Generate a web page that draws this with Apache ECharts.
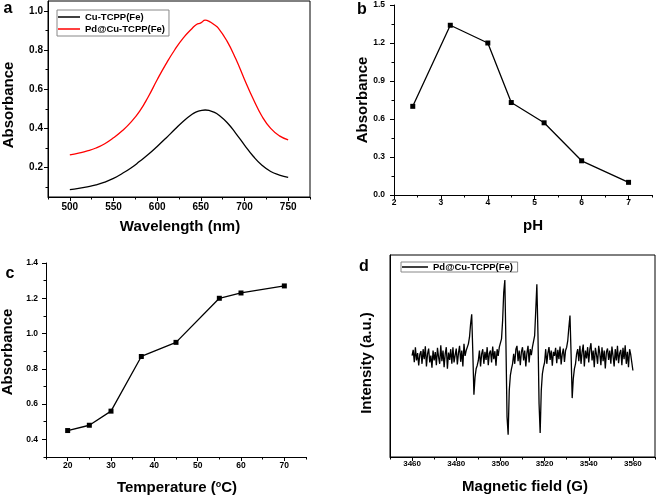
<!DOCTYPE html>
<html>
<head>
<meta charset="utf-8">
<script src="https://cdn.jsdelivr.net/npm/echarts@6/dist/echarts.min.js"></script>
<style>
html,body{margin:0;padding:0;background:#fff;}
#chart{width:661px;height:498px;}
</style>
</head>
<body>
<div id="chart"></div>
<script>
// ---------- Data ----------
// Panel a: UV-vis spectra
const wavelengths = [500,510,520,530,540,550,560,570,580,590,600,610,620,630,640,645,650,655,660,665,670,680,690,700,710,720,730,740,750];
const cuTcppAbs   = [0.088,0.094,0.102,0.112,0.126,0.145,0.170,0.198,0.232,0.268,0.308,0.350,0.394,0.437,0.472,0.484,0.491,0.494,0.491,0.483,0.470,0.430,0.375,0.315,0.258,0.212,0.180,0.162,0.150];
const pdCuTcppAbs = [0.265,0.274,0.285,0.300,0.322,0.352,0.388,0.432,0.488,0.563,0.648,0.728,0.800,0.862,0.910,0.930,0.938,0.952,0.945,0.930,0.912,0.845,0.755,0.650,0.550,0.462,0.400,0.362,0.342];
const seriesNamesA = ['Cu-TCPP(Fe)','Pd@Cu-TCPP(Fe)'];

// Panel b: pH dependence
const phValues = [2.4,3.2,4.0,4.5,5.2,6.0,7.0];
const phAbs    = [0.70,1.34,1.20,0.73,0.57,0.27,0.10];

// Panel c: temperature dependence
const temps    = [20,25,30,37,45,55,60,70];
const tempAbs  = [0.45,0.48,0.56,0.87,0.95,1.20,1.23,1.27];

// Panel d: EPR spectrum (field grid 3460..3560 G, 0.5 G step)
const eprStart = 3460, eprStep = 0.5;
const eprIntensity = [
0.05, 0.22, -0.15, 0.3, -0.1, 0.12, -0.25, 0.08, 0.18, -0.2,
0.24, -0.06, 0.33, -0.28, 0.1, 0.26, -0.16, 0.05, -0.32, 0.2,
-0.1, 0.15, -0.24, 0.28, 0.0, -0.2, 0.36, -0.12, 0.2, -0.3,
0.1, 0.3, -0.35, 0.14, -0.08, 0.24, -0.2, 0.3, -0.16, 0.06,
0.26, -0.22, 0.12, 0.34, -0.14, 0.2, -0.28, 0.4, 0.04, 0.2,
0.25, 0.4, 0.6, 1.0, 1.29, 0.15, -1.13, -0.6, -0.35, -0.25,
-0.1, 0.2, -0.28, 0.1, 0.24, -0.2, 0.16, -0.08, 0.3, -0.24,
0.12, 0.2, -0.16, 0.32, -0.06, 0.18, -0.26, 0.24, 0.04, 0.3,
0.3, 0.55, 1.1, 1.95, 2.32, 0.4, -1.8, -2.33, -1.0, -0.55,
-0.35, -0.2, 0.1, -0.2, 0.24, 0.34, -0.12, 0.2, -0.24, 0.16,
0.3, -0.1, 0.2, -0.28, 0.12, 0.34, -0.16, 0.24, 0.06, 0.3,
0.35, 0.65, 1.4, 2.19, 0.7, -1.4, -2.28, -1.0, -0.5, -0.3,
-0.16, 0.24, -0.2, 0.12, 0.3, -0.08, 0.2, -0.26, 0.16, 0.04,
0.28, -0.18, 0.22, -0.06, 0.32, -0.22, 0.1, 0.26, -0.14, 0.2,
0.3, 0.5, 0.9, 1.25, 0.1, -1.23, -0.65, -0.35, -0.2, 0.1,
0.24, -0.12, 0.34, -0.2, 0.16, 0.38, -0.28, 0.2, -0.04, 0.3,
-0.16, 0.24, 0.42, -0.1, 0.2, -0.3, 0.28, 0.08, -0.2, 0.34,
0.12, -0.24, 0.3, -0.12, 0.2, -0.34, 0.16, 0.26, -0.08, 0.2,
-0.2, 0.32, 0.04, -0.28, 0.24, -0.1, 0.34, -0.18, 0.12, 0.22,
-0.24, 0.28, -0.06, 0.36, -0.2, 0.16, -0.3, 0.24, 0.08, -0.16,
-0.4
];
const eprName = 'Pd@Cu-TCPP(Fe)';

// Tick labels
const aXLabels = [500,550,600,650,700,750];
const aXMinor  = [475,525,575,625,675,725,775];
const aYLabels = [0.2,0.4,0.6,0.8,1.0];
const aYMinor  = [0.1,0.3,0.5,0.7,0.9];
const bXLabels = [2,3,4,5,6,7];
const bXMinor  = [2.5,3.5,4.5,5.5,6.5,7.5];
const bYLabels = [0.0,0.3,0.6,0.9,1.2,1.5];
const bYMinor  = [0.15,0.45,0.75,1.05,1.35];
const cXLabels = [20,30,40,50,60,70];
const cXMinor  = [15,25,35,45,55,65,75];
const cYLabels = [0.4,0.6,0.8,1.0,1.2,1.4];
const cYMinor  = [0.3,0.5,0.7,0.9,1.1,1.3];
const dXLabels = [3460,3480,3500,3520,3540,3560];
const dXMinor  = [3450,3470,3490,3510,3530,3550,3570];

// ---------- Build ----------
const FONT = "'Liberation Sans', Arial, Helvetica, sans-serif";
const xAxes = [], yAxes = [];

function addAxes(list, dim, grid, min, max, labels, minor, fmt, fsize, margin, hide) {
  const pos = dim === 'x' ? 'bottom' : 'left';
  const main = {
    type: 'value', gridIndex: grid, min: min, max: max, position: pos,
    axisLine: { show: true, onZero: false, lineStyle: { color: '#000', width: 1 } },
    axisTick: { show: !hide, inside: false, length: 4, customValues: labels, lineStyle: { color: '#000', width: 1 } },
    axisLabel: { show: !hide, customValues: labels, margin: margin, fontSize: fsize, fontWeight: 'bold', color: '#000', fontFamily: FONT, formatter: fmt },
    splitLine: { show: false }
  };
  const idx = list.length;
  list.push(main);
  if (minor && !hide) {
    list.push({
      type: 'value', gridIndex: grid, min: min, max: max, position: pos, offset: 0,
      axisLine: { show: false, onZero: false },
      axisTick: { show: true, inside: false, length: 2.5, customValues: minor, lineStyle: { color: '#000', width: 1 } },
      axisLabel: { show: false },
      splitLine: { show: false }
    });
  }
  return idx;
}
const f1 = v => v.toFixed(1);
const f0 = v => String(Math.round(v));

// grids
const grids = [
  { left: 48, top: 1, width: 262, height: 196, show: true, borderColor: '#000', borderWidth: 1 },
  { left: 394, top: 5, width: 258, height: 190 },
  { left: 46, top: 263, width: 260, height: 194 },
  { left: 390, top: 255, width: 265, height: 202, show: true, borderColor: '#000', borderWidth: 1 }
];

const axA = addAxes(xAxes, 'x', 0, 475, 775, aXLabels, aXMinor, f0, 10, 5);
const ayA = addAxes(yAxes, 'y', 0, 0.05, 1.05, aYLabels, aYMinor, f1, 10, 5);
const axB = addAxes(xAxes, 'x', 1, 2, 7.5, bXLabels, bXMinor, f0, 8.5, 3);
const ayB = addAxes(yAxes, 'y', 1, 0, 1.5, bYLabels, bYMinor, f1, 8.5, 9);
const axC = addAxes(xAxes, 'x', 2, 15, 75, cXLabels, cXMinor, f0, 8.5, 4);
const ayC = addAxes(yAxes, 'y', 2, 0.3, 1.4, cYLabels, cYMinor, f1, 8.5, 8);
const axD = addAxes(xAxes, 'x', 3, 3450, 3570, dXLabels, dXMinor, f0, 8, 3);
const ayD = addAxes(yAxes, 'y', 3, -3.0, 3.07, [], null, f1, 8, 3, true);

const series = [
  { name: seriesNamesA[0], type: 'line', xAxisIndex: axA, yAxisIndex: ayA, showSymbol: false, smooth: 0.5,
    data: wavelengths.map((w, i) => [w, cuTcppAbs[i]]), lineStyle: { color: '#000', width: 1.3 }, itemStyle: { color: '#000' } },
  { name: seriesNamesA[1], type: 'line', xAxisIndex: axA, yAxisIndex: ayA, showSymbol: false, smooth: 0.5,
    data: wavelengths.map((w, i) => [w, pdCuTcppAbs[i]]), lineStyle: { color: '#ff0000', width: 1.3 }, itemStyle: { color: '#ff0000' } },
  { name: 'pH', type: 'line', xAxisIndex: axB, yAxisIndex: ayB, symbol: 'rect', symbolSize: 5,
    data: phValues.map((p, i) => [p, phAbs[i]]), lineStyle: { color: '#000', width: 1.3 }, itemStyle: { color: '#000' } },
  { name: 'Temperature', type: 'line', xAxisIndex: axC, yAxisIndex: ayC, symbol: 'rect', symbolSize: 5,
    data: temps.map((t, i) => [t, tempAbs[i]]), lineStyle: { color: '#000', width: 1.3 }, itemStyle: { color: '#000' } },
  { name: eprName + ' ', type: 'line', xAxisIndex: axD, yAxisIndex: ayD, showSymbol: false,
    data: eprIntensity.map((v, i) => [eprStart + i * eprStep, v]), lineStyle: { color: '#000', width: 1.3 }, itemStyle: { color: '#000' } }
];

const legendText = { fontSize: 9.5, fontWeight: 'bold', fontFamily: FONT, color: '#000' };
const legends = [
  { orient: 'vertical', left: 57, top: 10, data: seriesNamesA, icon: 'rect', itemWidth: 22, itemHeight: 1.5, itemGap: 2,
    padding: [2, 4, 2, 1], borderColor: '#888', borderWidth: 1, textStyle: legendText, selectedMode: false },
  { orient: 'vertical', left: 401, top: 262, data: [eprName + ' '], icon: 'rect', itemWidth: 26, itemHeight: 1.5,
    padding: [0, 2, 0, 1], borderColor: '#888', borderWidth: 1, textStyle: legendText, selectedMode: false }
];

function txt(x, y, s, size, rot, rich) {
  const st = { text: s, fontSize: size, fontWeight: 'bold', fontFamily: FONT, fill: '#000', align: 'center', verticalAlign: 'middle' };
  if (rich) st.rich = rich;
  return { type: 'text', x: x, y: y, rotation: rot || 0, style: st, z: 100 };
}
const titleSize = 15;
const graphic = [
  txt(8, 9, 'a', 16), txt(362, 10, 'b', 16), txt(10, 274, 'c', 16), txt(364, 267, 'd', 16),
  txt(180, 227, 'Wavelength (nm)', titleSize),
  txt(9, 105, 'Absorbance', titleSize, Math.PI / 2),
  txt(533, 226, 'pH', titleSize),
  txt(363, 100, 'Absorbance', titleSize, Math.PI / 2),
  txt(177, 488, 'Temperature ({s|o}C)', titleSize, 0, { s: { fontSize: 9, fontWeight: 'bold', fontFamily: FONT, fill: '#000', verticalAlign: 'top', padding: [0, 0, 6, 0] } }),
  txt(8, 352, 'Absorbance', titleSize, Math.PI / 2),
  txt(525, 487, 'Magnetic field (G)', titleSize),
  txt(367, 363, 'Intensity (a.u.)', titleSize, Math.PI / 2)
];

const chart = echarts.init(document.getElementById('chart'), null, { renderer: 'canvas' });
chart.setOption({
  animation: false,
  backgroundColor: '#fff',
  grid: grids,
  xAxis: xAxes,
  yAxis: yAxes,
  legend: legends,
  series: series,
  graphic: graphic
});
</script>
</body>
</html>
